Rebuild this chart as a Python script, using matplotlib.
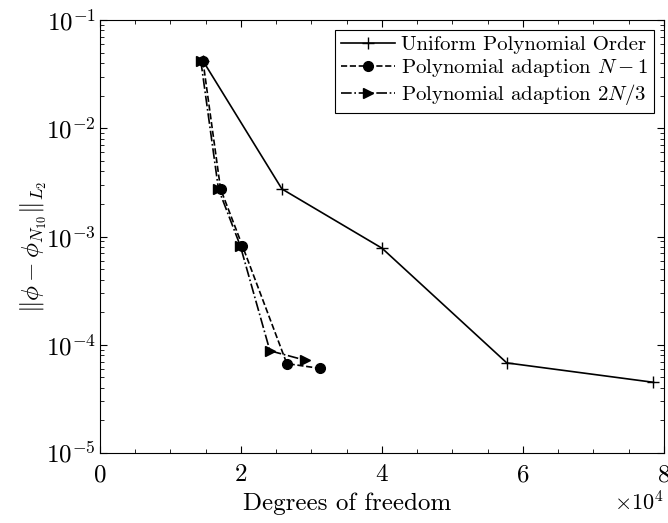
import matplotlib
matplotlib.use("Agg")
import matplotlib.pyplot as plt
from matplotlib.ticker import MultipleLocator, ScalarFormatter

plt.rcParams['font.family'] = 'serif'
plt.rcParams['font.serif'] = ['cmr10']
plt.rcParams['mathtext.fontset'] = 'cm'
plt.rcParams['axes.formatter.use_mathtext'] = True
plt.rcParams['axes.unicode_minus'] = False

# degrees of freedom and L2 error for each run
dof_uniform = [14600, 25800, 40000, 57700, 78500]
err_uniform = [0.042, 2.75e-3, 7.8e-4, 6.8e-5, 4.5e-5]

dof_n1 = [14600, 17100, 20200, 26500, 31200]
err_n1 = [0.042, 2.75e-3, 8.2e-4, 6.7e-5, 6.05e-5]

dof_2n3 = [14300, 16800, 19900, 24100, 29100]
err_2n3 = [0.042, 2.75e-3, 8.2e-4, 8.8e-5, 7.2e-5]

fig = plt.figure(figsize=(6.68, 5.23), dpi=100)
ax = fig.add_axes([0.1497, 0.1338, 0.8443, 0.828])

ax.plot(dof_uniform, err_uniform, 'k-', marker='+', markersize=8, linewidth=1.2,
        label='Uniform Polynomial Order')
ax.plot(dof_n1, err_n1, 'k--', marker='o', markersize=7, linewidth=1.2,
        label=r'Polynomial adaption $N-1$')
ax.plot(dof_2n3, err_2n3, 'k-.', marker='>', markersize=7, linewidth=1.2,
        label=r'Polynomial adaption $2N/3$')

ax.set_yscale('log')
ax.set_xlim(0, 80000)
ax.set_ylim(1e-5, 1e-1)
ax.xaxis.set_major_locator(MultipleLocator(20000))
ax.xaxis.set_minor_locator(MultipleLocator(5000))
fmt = ScalarFormatter(useMathText=True)
fmt.set_powerlimits((0, 0))
ax.xaxis.set_major_formatter(fmt)

ax.tick_params(which='both', direction='in', top=True, right=True, labelsize=18)
ax.tick_params(which='major', length=5)
ax.tick_params(which='minor', length=3)
ax.tick_params(axis='x', which='major', pad=8)
ax.tick_params(axis='y', which='major', pad=3)
ax.xaxis.get_offset_text().set_fontsize(16)
ax.xaxis.get_offset_text().set_x(1.0)

ax.set_xlabel('Degrees of freedom', fontsize=18)
ax.set_ylabel(r'$\|\phi - \phi_{N_{10}}\|_{L_2}$', fontsize=18)
ax.xaxis.set_label_coords(0.439, -0.092)
ax.yaxis.set_label_coords(-0.092, 0.476)

leg = ax.legend(loc='upper right', fontsize=15, fancybox=False, edgecolor='k',
                framealpha=1, handlelength=2.6, borderaxespad=0.5,
                handletextpad=0.3, labelspacing=0.15, borderpad=0.25)
leg.get_frame().set_linewidth(0.8)

fig.savefig('out.png', dpi=100)
